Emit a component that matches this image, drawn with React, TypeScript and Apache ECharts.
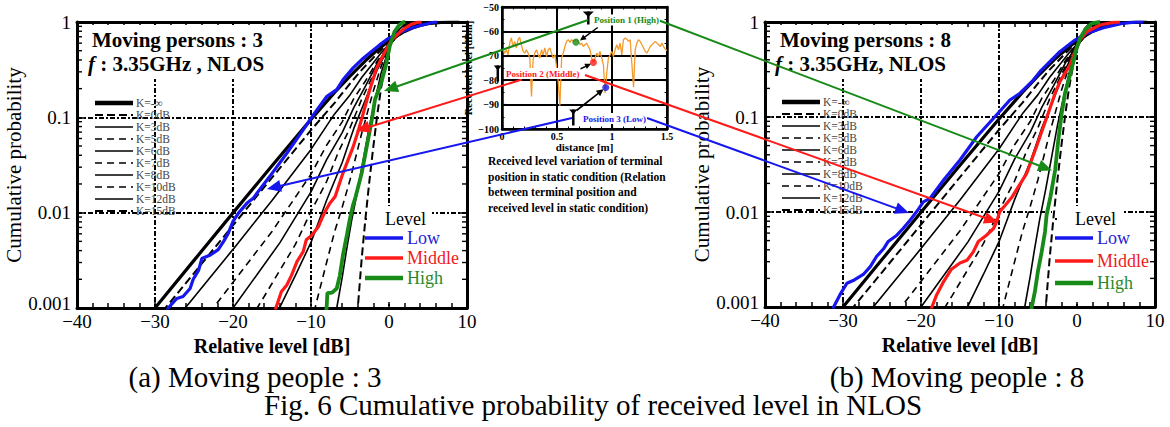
import React, { useEffect, useRef } from 'react';
import * as echarts from 'echarts';

const SERIF = '"Liberation Serif", "Times New Roman", serif';

// ---------- theoretical Rice CDF curves (relative level dB, cumulative probability) ----------
const kLabels = ['K=-\u221E', 'K=0dB', 'K=3dB', 'K=5dB', 'K=6dB', 'K=7dB', 'K=8dB', 'K=10dB', 'K=12dB', 'K=15dB'];
const riceKinf = [[-31, 0.00079], [-30, 0.001], [-25, 0.00316], [-20, 0.00995], [-15, 0.0311], [-10, 0.0952], [-7, 0.181], [-5, 0.271], [-3, 0.394], [-2, 0.467], [-1, 0.548], [0, 0.632], [1, 0.716], [2, 0.796], [3, 0.864], [4, 0.919], [5, 0.958], [6, 0.981], [7, 0.9933], [8, 0.9982], [9, 0.9997]];
const riceK0 = [[-31, 0.000585], [-30, 0.000736], [-25, 0.00232], [-20, 0.00736], [-15, 0.0233], [-10, 0.0734], [-7, 0.141], [-5, 0.226], [-3.5, 0.315], [-2, 0.423], [-1, 0.512], [0, 0.606], [1.5, 0.751], [3, 0.876], [4, 0.937], [5, 0.973], [7, 0.995], [9, 0.9995]];
const riceK3 = [[-27, 0.00082], [-26.3, 0.00096], [-20, 0.00412], [-15, 0.0134], [-10, 0.0461], [-7, 0.108], [-5, 0.172], [-3.5, 0.262], [-2, 0.374], [-1, 0.475], [0, 0.585], [1, 0.702], [2, 0.81], [3, 0.895], [4, 0.956], [5, 0.986], [6, 0.997], [8, 0.9999]];
const riceK5 = [[-23, 0.00089], [-22, 0.00114], [-15, 0.00635], [-10, 0.0253], [-8, 0.051], [-6, 0.0897], [-4.5, 0.158], [-3, 0.242], [-1.5, 0.39], [0, 0.572], [1, 0.703], [2, 0.829], [3, 0.918], [4, 0.97], [5, 0.991], [6, 0.998]];
const riceK6 = [[-20.5, 0.00088], [-20, 0.001], [-14, 0.00482], [-10, 0.0165], [-8, 0.036], [-6, 0.069], [-4.5, 0.127], [-3, 0.214], [-1.5, 0.37], [0, 0.562], [1, 0.704], [2, 0.835], [3, 0.927], [4, 0.9775], [5, 0.994], [6, 0.9995]];
const riceK7 = [[-17, 0.00097], [-16, 0.00132], [-12, 0.00464], [-10, 0.0103], [-8, 0.0212], [-6.5, 0.043], [-5, 0.0775], [-3.5, 0.155], [-2, 0.28], [-1, 0.41], [0, 0.557], [1, 0.71], [2, 0.851], [3, 0.942], [4, 0.985], [5, 0.997], [6, 0.9998]];
const riceK8 = [[-14.5, 0.00083], [-14.2, 0.00094], [-12, 0.0022], [-10, 0.00487], [-8, 0.0135], [-6, 0.0336], [-4.5, 0.077], [-3, 0.155], [-1.5, 0.317], [0, 0.552], [1, 0.725], [2, 0.869], [3, 0.956], [4, 0.991], [5, 0.999]];
const riceK10 = [[-9.6, 0.00091], [-9.3, 0.00115], [-8, 0.003], [-7, 0.0062], [-6, 0.0114], [-5, 0.022], [-3.5, 0.068], [-2, 0.19], [-1, 0.343], [0, 0.542], [1, 0.751], [2, 0.907], [3, 0.9796], [4, 0.9978]];
const riceK12 = [[-6.9, 0.00079], [-6.7, 0.001], [-6, 0.0021], [-5.5, 0.0038], [-4.8, 0.0082], [-4, 0.0175], [-3.2, 0.04], [-2.5, 0.082], [-1.7, 0.165], [-1, 0.293], [0, 0.534], [1, 0.787], [2, 0.944], [3, 0.9934], [4, 0.9998]];
const riceK15 = [[-4.2, 0.00063], [-4, 0.001], [-3.5, 0.0033], [-3, 0.009], [-2.5, 0.022], [-2, 0.05], [-1.5, 0.107], [-1, 0.207], [-0.5, 0.35], [0, 0.524], [0.5, 0.7], [1, 0.853], [1.5, 0.945], [2, 0.9844], [3, 0.9997]];
const theory = [riceKinf, riceK0, riceK3, riceK5, riceK6, riceK7, riceK8, riceK10, riceK12, riceK15];

// ---------- measured CDFs, moving persons : 3 ----------
const lowP3 = [[-28.5, 0.0009], [-28.3, 0.001], [-27.2, 0.00126], [-26.4, 0.00132], [-25.5, 0.0016], [-25.1, 0.002], [-24.4, 0.0025], [-24.0, 0.0033], [-22.9, 0.0036], [-21.9, 0.0041], [-21.2, 0.005], [-20.6, 0.0061], [-20.0, 0.0081], [-19.3, 0.0099], [-18.2, 0.0126], [-17.4, 0.0142], [-15.3, 0.0239], [-13.1, 0.042], [-11.0, 0.0738], [-9.7, 0.106], [-8.0, 0.165], [-6.7, 0.195], [-5.9, 0.247], [-4.6, 0.33], [-3.3, 0.417], [-2.0, 0.51], [-1.2, 0.575], [-0.1, 0.67], [0.55, 0.71], [1.4, 0.78], [2.3, 0.83], [3.2, 0.88], [4.0, 0.92], [5.3, 0.975], [5.8, 0.995], [6.2, 1]];
const midP3 = [[-14.6, 0.0009], [-14.5, 0.001], [-13.8, 0.00148], [-13.1, 0.00174], [-12.5, 0.0022], [-11.8, 0.00306], [-11.0, 0.0039], [-10.6, 0.0052], [-9.9, 0.0058], [-9.06, 0.0071], [-8.6, 0.0087], [-8.2, 0.0102], [-7.6, 0.0125], [-6.9, 0.0148], [-5.9, 0.026], [-4.6, 0.049], [-3.9, 0.074], [-3.3, 0.11], [-2.6, 0.179], [-1.6, 0.327], [-0.5, 0.49], [0.35, 0.65], [1.4, 0.78], [2.2, 0.88], [2.9, 0.95], [3.6, 0.99], [4.2, 1]];
const highP3 = [[-8.1, 0.0009], [-8.0, 0.001], [-7.9, 0.00143], [-7.3, 0.00145], [-6.7, 0.0016], [-6.3, 0.0022], [-5.9, 0.0036], [-5.4, 0.0058], [-5.0, 0.0087], [-4.6, 0.0121], [-4.3, 0.0145], [-3.5, 0.026], [-2.86, 0.049], [-2.2, 0.094], [-1.8, 0.153], [-1.0, 0.23], [-0.4, 0.35], [0.1, 0.56], [0.7, 0.79], [1.3, 0.93], [1.8, 0.99], [2.1, 1]];

// ---------- measured CDFs, moving persons : 8 ----------
const lowP8 = [[-31.3, 0.0009], [-31.2, 0.001], [-30.4, 0.00134], [-29.5, 0.00178], [-28.7, 0.0019], [-27.4, 0.0022], [-26.5, 0.00266], [-25.7, 0.0034], [-24.8, 0.0041], [-24.2, 0.0049], [-23.1, 0.0057], [-22.3, 0.0067], [-21.4, 0.0082], [-20.55, 0.0101], [-19.7, 0.0128], [-18.85, 0.0139], [-17.1, 0.0217], [-15.0, 0.0353], [-12.85, 0.062], [-10.7, 0.097], [-8.6, 0.151], [-7.3, 0.178], [-5.6, 0.245], [-4.75, 0.3], [-2.2, 0.487], [-0.26, 0.646], [1.24, 0.76], [3.4, 0.87], [5.9, 0.97], [7.5, 0.995], [8.5, 1]];
const midP8 = [[-18.7, 0.0009], [-18.6, 0.001], [-18.0, 0.00134], [-17.1, 0.00185], [-16.1, 0.0025], [-15.0, 0.0029], [-14.1, 0.0031], [-13.3, 0.0038], [-12.65, 0.0049], [-11.6, 0.0057], [-10.7, 0.0067], [-10.3, 0.0079], [-9.9, 0.0101], [-9.2, 0.0118], [-8.3, 0.0145], [-6.45, 0.0255], [-5.2, 0.0486], [-4.3, 0.079], [-3.7, 0.109], [-2.8, 0.178], [-2.2, 0.235], [-0.9, 0.352], [-0.26, 0.487], [0.38, 0.646], [1.24, 0.79], [2.95, 0.93], [4.65, 0.99], [5.5, 1]];
const highP8 = [[-5.9, 0.0009], [-5.8, 0.001], [-5.4, 0.00145], [-5.0, 0.0024], [-4.53, 0.0038], [-4.1, 0.0062], [-3.9, 0.0093], [-3.4, 0.0145], [-2.8, 0.0277], [-2.4, 0.057], [-1.96, 0.109], [-1.54, 0.178], [-1.1, 0.24], [-0.47, 0.38], [-0.04, 0.53], [0.38, 0.67], [1.0, 0.82], [1.9, 0.97], [2.95, 1]];

// ---------- inset: received level vs distance (static) ----------
const insetTrace = [[0.009, -67.5], [0.024, -68.9], [0.040, -67.5], [0.055, -69.6], [0.070, -64.8], [0.085, -62.7], [0.100, -66.2], [0.116, -64.1], [0.131, -66.8], [0.146, -63.4], [0.161, -62.5], [0.176, -65.5], [0.192, -68.2], [0.207, -68.9], [0.222, -67.5], [0.237, -68.9], [0.253, -71.0], [0.268, -86.7], [0.283, -71.6], [0.298, -68.9], [0.313, -67.5], [0.329, -69.6], [0.344, -71.0], [0.359, -67.5], [0.374, -69.6], [0.389, -66.8], [0.405, -70.3], [0.420, -67.5], [0.435, -66.8], [0.450, -68.9], [0.465, -71.0], [0.481, -69.6], [0.496, -74.4], [0.511, -80.5], [0.526, -90.5], [0.542, -71.0], [0.557, -68.9], [0.572, -66.2], [0.587, -64.1], [0.602, -63.4], [0.618, -64.5], [0.633, -63.4], [0.648, -64.1], [0.663, -63.7], [0.678, -63.2], [0.694, -64.1], [0.709, -65.5], [0.724, -64.8], [0.739, -66.2], [0.754, -65.5], [0.770, -64.8], [0.785, -66.2], [0.800, -67.5], [0.815, -71.0], [0.831, -72.7], [0.846, -71.0], [0.861, -68.9], [0.876, -70.3], [0.891, -68.2], [0.907, -71.0], [0.922, -73.7], [0.937, -85.3], [0.943, -83.0], [0.952, -77.1], [0.967, -71.0], [0.983, -69.6], [0.998, -68.2], [1.013, -70.3], [1.028, -67.5], [1.043, -65.5], [1.059, -67.5], [1.074, -64.8], [1.089, -69.6], [1.104, -63.4], [1.120, -62.7], [1.135, -63.2], [1.150, -64.1], [1.165, -63.4], [1.180, -73.0], [1.196, -82.9], [1.211, -67.5], [1.226, -64.8], [1.241, -63.4], [1.256, -64.1], [1.272, -65.5], [1.287, -66.8], [1.302, -68.2], [1.317, -68.9], [1.333, -67.5], [1.348, -66.2], [1.363, -65.5], [1.378, -64.8], [1.393, -64.1], [1.409, -64.8], [1.424, -65.5], [1.439, -66.2], [1.454, -64.8], [1.469, -66.2], [1.485, -67.3], [1.500, -67.8]];
const positionNames = ['Position 1 (High)', 'Position 2 (Middle)', 'Position 3 (Low)'];
const positionDist = [0.672, 0.831, 0.943];
const positionLevel = [-64.4, -72.7, -83.0];

// log-axis minor tick values
const logMinorTicks = [0.002, 0.003, 0.004, 0.005, 0.006, 0.007, 0.008, 0.009, 0.02, 0.03, 0.04, 0.05, 0.06, 0.07, 0.08, 0.09, 0.2, 0.3, 0.4, 0.5, 0.6, 0.7, 0.8, 0.9];

// ---------- styles ----------
const theoryStyle: any[] = [
  { type: 'solid', width: 3.2 },
  { type: [8, 4], width: 2 },
  { type: 'solid', width: 1.6 },
  { type: [7, 5], width: 1.6 },
  { type: 'solid', width: 1.6 },
  { type: [7, 5], width: 1.6 },
  { type: 'solid', width: 1.6 },
  { type: [7, 5], width: 1.6 },
  { type: 'solid', width: 1.6 },
  { type: [8, 4], width: 2 },
];
const BLUE = '#1616ee';
const RED = '#ff1a1a';
const GREEN = '#178a17';
const ORANGE = '#f39a2c';
const GRID_DASH = [5, 2, 2, 2];

function xLin(gridIndex: number, position: string) {
  const bottom = position === 'bottom';
  return {
    type: 'value', gridIndex, position, min: -40, max: 10, interval: 10,
    axisLine: { show: true, onZero: false, lineStyle: { color: '#000', width: 3 } },
    axisTick: { show: true, inside: true, length: 6, lineStyle: { color: '#000', width: 1.5 } },
    minorTick: { show: true, splitNumber: 5, length: 5, lineStyle: { color: '#000', width: 1.5 } },
    axisLabel: {
      show: bottom, margin: 4, color: '#000', fontFamily: SERIF, fontSize: 19,
      formatter: (v: number) => (v < 0 ? '\u2212' + Math.abs(v) : String(v)),
    },
    splitLine: { show: bottom, lineStyle: { color: '#000', width: 2, type: GRID_DASH } },
    name: bottom ? 'Relative level [dB]' : '',
    nameLocation: 'middle', nameGap: 24,
    nameTextStyle: { color: '#000', fontFamily: SERIF, fontSize: 20, fontWeight: 'bold' },
  };
}
function yLog(gridIndex: number, position: string) {
  const left = position === 'left';
  return {
    type: 'log', logBase: 10, gridIndex, position, min: 0.001, max: 1,
    axisLine: { show: true, onZero: false, lineStyle: { color: '#000', width: 3 } },
    axisTick: { show: true, inside: true, length: 8, lineStyle: { color: '#000', width: 1.5 } },
    axisLabel: {
      show: left, margin: 6, color: '#000', fontFamily: SERIF, fontSize: 19,
      formatter: (v: number) => (v >= 0.999 ? '1' : v < 0.0015 ? '{lo|0.001}' : Number(v).toPrecision(1)),
      rich: { lo: { fontFamily: SERIF, fontSize: 19, color: '#000', padding: [0, 0, 9, 0] } },
    },
    splitLine: { show: left, lineStyle: { color: '#000', width: 2, type: GRID_DASH } },
    name: left ? 'Cumulative probability' : '',
    nameLocation: 'middle', nameGap: 49,
    nameTextStyle: { color: '#000', fontFamily: SERIF, fontSize: 21 },
  };
}
function xInset(position: string) {
  const bottom = position === 'bottom';
  return {
    type: 'value', gridIndex: 2, position, min: 0, max: 1.5, interval: 0.5,
    axisLine: { show: true, onZero: false, lineStyle: { color: '#000', width: 2.5 } },
    axisTick: { show: true, inside: true, length: 4, lineStyle: { color: '#000', width: 1.2 } },
    minorTick: { show: true, splitNumber: 5, length: 2.5, lineStyle: { color: '#000', width: 1 } },
    axisLabel: { show: bottom, margin: 2, color: '#000', fontFamily: SERIF, fontSize: 10, fontWeight: 'bold' },
    splitLine: { show: bottom, lineStyle: { color: '#000', width: 2 } },
    name: bottom ? 'distance [m]' : '', nameLocation: 'middle', nameGap: 11,
    nameTextStyle: { color: '#000', fontFamily: SERIF, fontSize: 11, fontWeight: 'bold' },
  };
}
function yInset(position: string) {
  const left = position === 'left';
  return {
    type: 'value', gridIndex: 2, position, min: -100, max: -50, interval: 10,
    axisLine: { show: true, onZero: false, lineStyle: { color: '#000', width: 2.5 } },
    axisTick: { show: true, inside: true, length: 4, lineStyle: { color: '#000', width: 1.2 } },
    minorTick: { show: true, splitNumber: 2, length: 2.5, lineStyle: { color: '#000', width: 1 } },
    axisLabel: {
      show: left, margin: 3, color: '#000', fontFamily: SERIF, fontSize: 10, fontWeight: 'bold',
      formatter: (v: number) => (v < 0 ? '\u2212' + Math.abs(v) : String(v)),
    },
    splitLine: { show: left, lineStyle: { color: '#000', width: 2 } },
    name: left ? 'Received level [dBm]' : '', nameLocation: 'middle', nameGap: 22,
    nameTextStyle: { color: '#000', fontFamily: SERIF, fontSize: 10.5, fontWeight: 'bold' },
  };
}

function chartSeries(xi: number, yi: number, low: number[][], mid: number[][], high: number[][]) {
  const s: any[] = [];
  theory.forEach((d, i) => {
    s.push({
      type: 'line', name: kLabels[i], xAxisIndex: xi, yAxisIndex: yi, data: d,
      symbol: 'none', showSymbol: false, smooth: false, silent: true, z: 3,
      lineStyle: { color: '#000', width: theoryStyle[i].width, type: theoryStyle[i].type },
    });
  });
  [[low, BLUE, 3.2, 'Low'], [mid, RED, 3.2, 'Middle'], [high, GREEN, 3.8, 'High']].forEach(([d, c, w, n]: any) => {
    s.push({
      type: 'line', name: n, xAxisIndex: xi, yAxisIndex: yi, data: d, symbol: 'none', showSymbol: false,
      silent: true, z: 4, lineStyle: { color: c, width: w },
    });
  });
  s.push({
    type: 'custom', xAxisIndex: xi, yAxisIndex: yi, silent: true, clip: false, z: 5,
    data: logMinorTicks.map((v) => [-40, v]),
    renderItem: (_p: any, api: any) => {
      const v = api.value(1);
      const l = api.coord([-40, v]);
      const r = api.coord([10, v]);
      return {
        type: 'group', children: [
          { type: 'line', shape: { x1: l[0], y1: l[1], x2: l[0] + 5, y2: l[1] }, style: { stroke: '#000', lineWidth: 1.4 } },
          { type: 'line', shape: { x1: r[0] - 5, y1: r[1], x2: r[0], y2: r[1] }, style: { stroke: '#000', lineWidth: 1.4 } },
        ],
      };
    },
  });
  return s;
}

function arrow(x1: number, y1: number, x2: number, y2: number, color: string, w: number, hl = 14, hw = 6) {
  const dx = x2 - x1, dy = y2 - y1, L = Math.hypot(dx, dy), ux = dx / L, uy = dy / L;
  const bx = x2 - ux * hl, by = y2 - uy * hl;
  return [
    { type: 'line', z: 100, shape: { x1, y1, x2: bx + ux * 2, y2: by + uy * 2 }, style: { stroke: color, lineWidth: w } },
    { type: 'polygon', z: 100, shape: { points: [[x2, y2], [bx - uy * hw, by + ux * hw], [bx + uy * hw, by - ux * hw]] }, style: { fill: color } },
  ];
}
function antenna(cx: number, top: number, w: number, h: number, stem: number) {
  return [
    { type: 'polygon', z: 100, shape: { points: [[cx - w / 2, top], [cx + w / 2, top], [cx, top + h]] }, style: { fill: '#000' } },
    { type: 'line', z: 100, shape: { x1: cx, y1: top, x2: cx, y2: top + stem }, style: { stroke: '#000', lineWidth: 2.5 } },
  ];
}
function txt(x: number, y: number, text: string, o: any = {}) {
  return {
    type: 'text', x, y, z: 100, silent: true,
    style: { text, fill: '#000', fontFamily: SERIF, fontSize: 12, verticalAlign: 'middle', align: 'left', ...o },
  };
}
function kLegend(x0: number, y0: number) {
  const els: any[] = [];
  kLabels.forEach((k, i) => {
    const y = y0 + 12 * i;
    const st = theoryStyle[i];
    els.push({
      type: 'line', z: 100, shape: { x1: x0, y1: y, x2: x0 + 38, y2: y },
      style: { stroke: '#000', lineWidth: i === 0 ? 4.5 : st.width, lineDash: st.type === 'solid' ? null : st.type },
    });
    els.push(txt(x0 + 41, y, k, { fontSize: 11.5, fill: '#444' }));
  });
  return els;
}
function levelLegend(x0: number, yTitle: number, rows: number[]) {
  const els: any[] = [];
  els.push({ type: 'rect', z: 1, shape: { x: x0 - 3, y: yTitle - 13, width: 70, height: 96 }, style: { fill: '#fff' } });
  els.push({ type: 'rect', z: 100, shape: { x: x0, y: yTitle - 1, width: 2, height: 2 }, style: { fill: '#000' } });
  els.push(txt(x0 + 20, yTitle, 'Level', { fontSize: 18 }));
  const items: any[] = [['Low', BLUE, 3.5, '#2424d6'], ['Middle', RED, 3.5, '#f01c1c'], ['High', GREEN, 4.5, '#2a8a2a']];
  items.forEach(([n, c, w, tc], i) => {
    els.push({ type: 'line', z: 100, shape: { x1: x0, y1: rows[i], x2: x0 + 38, y2: rows[i] }, style: { stroke: c, lineWidth: w } });
    els.push(txt(x0 + 42, rows[i], n, { fontSize: 18, fill: tc }));
  });
  return els;
}

const graphics: any[] = [
  // white boxes behind the chart titles
  { type: 'rect', z: 1, shape: { x: 81, y: 25, width: 197, height: 54 }, style: { fill: '#fff' } },
  { type: 'rect', z: 1, shape: { x: 771, y: 25, width: 194, height: 54 }, style: { fill: '#fff' } },
  txt(92, 40, 'Moving persons : 3', { fontSize: 21, fontWeight: 'bold' }),
  txt(88, 64, '{i|f} : 3.35GHz , NLOS', { fontSize: 21, fontWeight: 'bold', rich: { i: { fontStyle: 'italic', fontWeight: 'bold', fontSize: 21, fontFamily: SERIF } } }),
  txt(780, 40, 'Moving persons : 8', { fontSize: 21, fontWeight: 'bold' }),
  txt(775, 64, '{i|f} : 3.35GHz, NLOS', { fontSize: 21, fontWeight: 'bold', rich: { i: { fontStyle: 'italic', fontWeight: 'bold', fontSize: 21, fontFamily: SERIF } } }),
  ...kLegend(95, 103),
  ...kLegend(782, 102),
  ...levelLegend(365, 219, [238, 258, 278]),
  ...levelLegend(1055, 219, [238, 261, 283]),
  // inset caption
  txt(488, 161, 'Received level variation of terminal', { fontSize: 11.5, fontWeight: 'bold' }),
  txt(488, 176.5, 'position in static condition (Relation', { fontSize: 11.5, fontWeight: 'bold' }),
  txt(488, 192, 'between terminal position and', { fontSize: 11.5, fontWeight: 'bold' }),
  txt(488, 207.5, 'received level in static condition)', { fontSize: 11.5, fontWeight: 'bold' }),
  // antennas and small arrows in inset
  ...antenna(588.3, 11.5, 11, 5.5, 13),
  ...antenna(497.8, 65.5, 8, 5, 16),
  ...antenna(573.3, 109.5, 8, 5, 16),
  ...arrow(597.7, 27.5, 580, 40.5, '#000', 1.4, 6, 3),
  ...arrow(579, 69.5, 591, 63.8, '#000', 1.4, 6, 3),
  ...arrow(576.5, 110.5, 603.5, 89.2, '#000', 1.6, 7, 3.5),
  // long colour arrows from positions to CDF curves
  ...arrow(588, 20, 384, 91, GREEN, 2),
  ...arrow(658, 20, 1052, 170.5, GREEN, 2),
  ...arrow(522, 79.5, 356, 131, RED, 2),
  ...arrow(585, 75, 998, 222.5, RED, 2),
  ...arrow(572, 118, 267, 189, BLUE, 2),
  ...arrow(647, 118, 909, 213, BLUE, 2),
  // position labels
  txt(593, 20, positionNames[0], { fontSize: 9, fontWeight: 'bold', fill: GREEN, backgroundColor: '#fff', padding: [1, 1] }),
  txt(505, 73.5, positionNames[1], { fontSize: 9, fontWeight: 'bold', fill: RED, backgroundColor: '#fff', padding: [1, 1] }),
  txt(582, 118.5, positionNames[2], { fontSize: 9, fontWeight: 'bold', fill: BLUE, backgroundColor: '#fff', padding: [1, 1] }),
  // captions
  txt(255, 377, '(a) Moving people : 3', { fontSize: 29, align: 'center' }),
  txt(957, 377, '(b) Moving people : 8', { fontSize: 29, align: 'center' }),
  txt(593, 405, 'Fig. 6 Cumulative probability of received level in NLOS', { fontSize: 29, align: 'center' }),
];

const option: any = {
  animation: false,
  backgroundColor: '#fff',
  grid: [
    { left: 77, top: 22, width: 390, height: 286 },
    { left: 765, top: 22, width: 390, height: 285 },
    { left: 502, top: 7, width: 165, height: 122 },
  ],
  xAxis: [xLin(0, 'bottom'), xLin(0, 'top'), xLin(1, 'bottom'), xLin(1, 'top'), xInset('bottom'), xInset('top')],
  yAxis: [yLog(0, 'left'), yLog(0, 'right'), yLog(1, 'left'), yLog(1, 'right'), yInset('left'), yInset('right')],
  series: [
    ...chartSeries(0, 0, lowP3, midP3, highP3),
    ...chartSeries(2, 2, lowP8, midP8, highP8),
    {
      type: 'line', name: 'Received level', xAxisIndex: 4, yAxisIndex: 4, data: insetTrace,
      symbol: 'none', showSymbol: false, silent: true, z: 3, lineStyle: { color: ORANGE, width: 1.3 },
    },
    ...[GREEN, RED, BLUE].map((c, i) => ({
      type: 'scatter', name: positionNames[i], xAxisIndex: 4, yAxisIndex: 4,
      data: [[positionDist[i], positionLevel[i]]], symbolSize: 7, silent: true, z: 6, itemStyle: { color: c },
    })),
  ],
  graphic: { elements: graphics },
};

export default function App() {
  const ref = useRef<HTMLDivElement>(null);
  useEffect(() => {
    const chart = echarts.init(ref.current!, null, { renderer: 'svg' });
    chart.setOption(option);
    return () => chart.dispose();
  }, []);
  return (
    <div
      ref={ref}
      style={{ position: 'fixed', left: 0, top: 0, width: 1170, height: 427, background: '#fff' }}
    />
  );
}
